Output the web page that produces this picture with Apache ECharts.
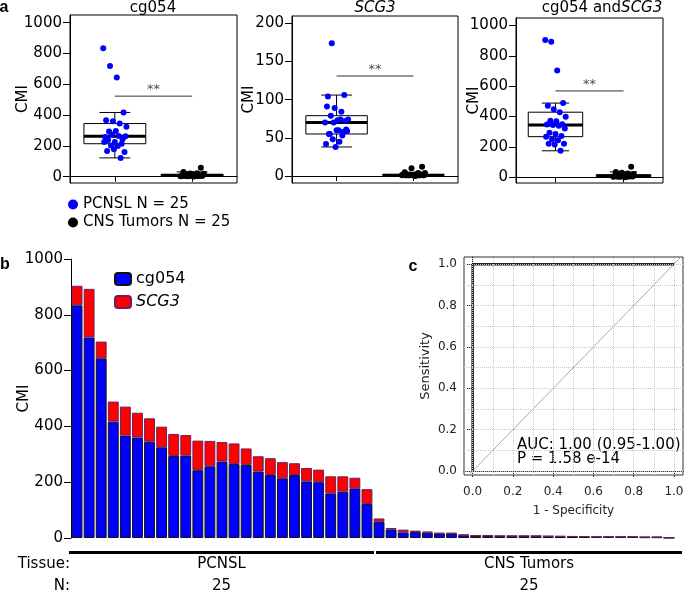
<!DOCTYPE html>
<html><head><meta charset="utf-8">
<script src="https://cdn.jsdelivr.net/npm/echarts@6/dist/echarts.min.js"></script>
<style>html,body{margin:0;padding:0;background:#fff}#c{width:684px;height:595px}</style>
</head><body><div id="c"></div>
<script>
// ---- data (bar order: sorted by combined CMI, descending) ----
const cg054Pcnsl = [834,719,644,417,367,360,345,325,294,296,243,257,274,265,262,238,226,214,226,203,200,160,166,178,122];
const scg3Pcnsl  = [70,174,60,72,104,89,84,74,79,73,106,91,70,74,59,55,60,58,42,48,45,61,55,38,53];
const cg054Cns   = [58,31,20,22,19,16,16,10,8,8,7,7,7,7,6,5,5,4,4,4,4,4,3,3,1];
const scg3Cns    = [12,5,10,4,4,2,2,2,2,2,1,1,1,1,1,2,1,2,1,1,1,1,1,1,0];
const groupNames = ['PCNSL','CNS Tumors'];
const groupN = [25,25];
const panelTitles = ['cg054','SCG3','cg054 and SCG3'];
const ticksA1 = [0,200,400,600,800,1000];
const ticksA2 = [0,50,100,150,200];
const ticksA3 = [0,200,400,600,800,1000];
const sigLineY = [523,131,569];
const rocX = [0,0,1];
const rocY = [0,1,1];
const rocTicks = [0,0.2,0.4,0.6,0.8,1.0];
const rocGrid = [0,0.1,0.2,0.3,0.4,0.5,0.6,0.7,0.8,0.9,1.0];
const aucText = 'AUC: 1.00 (0.95-1.00)';
const pText = 'P = 1.58 e-14';

// ---- derived ----
const sumPcnsl = cg054Pcnsl.map((v,i)=>v+scg3Pcnsl[i]);
const sumCns = cg054Cns.map((v,i)=>v+scg3Cns[i]);
const sampleIds = cg054Pcnsl.concat(cg054Cns).map((_,i)=>'S'+(i+1));
const FONT = 'DejaVu Sans';
const BLUE = '#0000ff', RED = '#ff0000';

function boxStats(arr){
  const x=[...arr].sort((a,b)=>a-b), n=x.length;
  const n4=Math.floor((n+3)/2)/2;
  const d=[1,n4,(n+1)/2,n+1-n4,n];
  const f=d.map(v=>0.5*(x[Math.floor(v)-1]+x[Math.ceil(v)-1]));
  const iqr=f[3]-f[1];
  const lo=x.find(v=>v>=f[1]-1.5*iqr);
  const hi=[...x].reverse().find(v=>v<=f[3]+1.5*iqr);
  return {lo,q1:f[1],md:f[2],q3:f[3],hi};
}
function jit(i){ return (((i*7)%25)/24-0.5)*0.3; }

function renderBox(params, api){
  const x=api.value(0), lo=api.value(1), q1=api.value(2), md=api.value(3), q3=api.value(4), hi=api.value(5);
  const hw=0.4, cw=0.2;
  const c=(a,b)=>api.coord([a,b]);
  const L=(p,q,w)=>({type:'line',shape:{x1:p[0],y1:p[1],x2:q[0],y2:q[1]},style:{stroke:'#000',lineWidth:w||1}});
  const a=c(x-hw,q3), b=c(x+hw,q1);
  return {type:'group',children:[
    L(c(x,q3),c(x,hi)), L(c(x,q1),c(x,lo)),
    L(c(x-cw,hi),c(x+cw,hi)), L(c(x-cw,lo),c(x+cw,lo)),
    {type:'rect',shape:{x:a[0],y:a[1],width:b[0]-a[0],height:b[1]-a[1]},style:{fill:'#fff',stroke:'#000',lineWidth:1}},
    L(c(x-hw,md),c(x+hw,md),3)
  ]};
}

const panels = [
  {p:cg054Pcnsl, c:cg054Cns, ticks:ticksA1, min:-41, max:1050},
  {p:scg3Pcnsl,  c:scg3Cns,  ticks:ticksA2, min:-9.2, max:209.6},
  {p:sumPcnsl,   c:sumCns,   ticks:ticksA3, min:-37, max:1049}
];
const gridsA = [
  {left:70, top:15, width:167, height:168},
  {left:292, top:16, width:166, height:167},
  {left:516, top:18, width:147, height:165}
];
const nameGapsA = [39,35,34];
const nameP = groupNames[0]+' N = '+groupN[0];
const nameC = groupNames[1]+' N = '+groupN[1];

const grid=[], xAxis=[], yAxis=[], series=[];
panels.forEach((pn,k)=>{
  grid.push(Object.assign({show:true,borderColor:'#000',borderWidth:1,backgroundColor:'transparent',outerBoundsMode:'none',containLabel:false},gridsA[k]));
  xAxis.push({gridIndex:k,type:'value',min:0.42,max:2.58,axisLine:{show:true,lineStyle:{color:'#000'}},
    axisTick:{show:true,customValues:[1,2],length:5,lineStyle:{color:'#000'}},
    axisLabel:{show:false},splitLine:{show:false}});
  yAxis.push({gridIndex:k,type:'value',min:pn.min,max:pn.max,axisLine:{show:true,lineStyle:{color:'#000'}},
    axisTick:{show:true,customValues:pn.ticks,length:7,lineStyle:{color:'#000'}},
    axisLabel:{customValues:pn.ticks,formatter:v=>String(v),fontFamily:FONT,fontSize:15,color:'#000',margin:8},
    splitLine:{show:false},name:'CMI',nameLocation:'middle',nameGap:nameGapsA[k],nameMoveOverlap:false,
    nameTextStyle:{fontFamily:FONT,fontSize:15,color:'#000'}});
  const sp=boxStats(pn.p), sc=boxStats(pn.c);
  series.push({type:'custom',xAxisIndex:k,yAxisIndex:k,renderItem:renderBox,z:2,silent:true,
    encode:{x:0,y:[1,2,3,4,5]},
    data:[[1,sp.lo,sp.q1,sp.md,sp.q3,sp.hi],[2,sc.lo,sc.q1,sc.md,sc.q3,sc.hi]]});
  series.push({type:'scatter',name:nameP,xAxisIndex:k,yAxisIndex:k,z:3,symbolSize:6,
    itemStyle:{color:BLUE,opacity:1},data:pn.p.map((v,i)=>[1+jit(i),v])});
  series.push({type:'scatter',name:nameC,xAxisIndex:k,yAxisIndex:k,z:3,symbolSize:6,
    itemStyle:{color:'#000',opacity:1},data:pn.c.map((v,i)=>[2+jit(i+3),v])});
  series.push({type:'line',xAxisIndex:k,yAxisIndex:k,symbol:'none',silent:true,
    lineStyle:{color:'#333',width:1},data:[[1,sigLineY[k]],[2,sigLineY[k]]]});
  series.push({type:'scatter',xAxisIndex:k,yAxisIndex:k,symbolSize:0,silent:true,
    label:{show:true,position:'top',distance:0,formatter:'**',fontFamily:FONT,fontSize:13,color:'#222'},
    data:[[1.5,sigLineY[k]]]});
});

// panel b
grid.push({left:71,top:259,width:604,height:279,outerBoundsMode:'none',containLabel:false});
xAxis.push({gridIndex:3,type:'category',data:sampleIds,axisLine:{show:false},axisTick:{show:false},axisLabel:{show:false}});
yAxis.push({gridIndex:3,type:'value',min:0,max:1000,interval:200,
  axisLine:{show:true,lineStyle:{color:'#000',width:1}},
  axisTick:{show:true,length:7,lineStyle:{color:'#000'}},
  axisLabel:{formatter:v=>String(v),fontFamily:FONT,fontSize:15,color:'#000',margin:8},
  splitLine:{show:false},name:'CMI',nameLocation:'middle',nameGap:39,nameMoveOverlap:false,
  nameTextStyle:{fontFamily:FONT,fontSize:15,color:'#000'}});
series.push({type:'bar',name:'cg054',xAxisIndex:3,yAxisIndex:3,stack:'cmi',barCategoryGap:'10%',
  itemStyle:{color:BLUE,borderColor:'#111',borderWidth:1},data:cg054Pcnsl.concat(cg054Cns)});
series.push({type:'bar',name:'SCG3',xAxisIndex:3,yAxisIndex:3,stack:'cmi',barCategoryGap:'10%',
  itemStyle:{color:RED,borderColor:'#6b1f5e',borderWidth:1},data:scg3Pcnsl.concat(scg3Cns)});

// panel c
grid.push({left:464,top:257,width:219,height:218,show:true,borderColor:'#333',borderWidth:1,backgroundColor:'transparent',outerBoundsMode:'none',containLabel:false});
xAxis.push({gridIndex:4,type:'value',min:-0.043,max:1.045,axisLine:{show:true,lineStyle:{color:'#333'}},
  axisTick:{show:true,customValues:rocTicks,length:6,lineStyle:{color:'#333'}},
  axisLabel:{customValues:rocTicks,formatter:v=>v.toFixed(1),fontFamily:FONT,fontSize:12,color:'#222',margin:11},
  splitLine:{show:false},name:'1 - Specificity',nameLocation:'middle',nameGap:30,nameMoveOverlap:false,
  nameTextStyle:{fontFamily:FONT,fontSize:12,color:'#222'}});
yAxis.push({gridIndex:4,type:'value',min:-0.019,max:1.035,axisLine:{show:true,lineStyle:{color:'#333'}},
  axisTick:{show:true,customValues:rocTicks,length:6,lineStyle:{color:'#333'}},
  axisLabel:{customValues:rocTicks,formatter:v=>v.toFixed(1),fontFamily:FONT,fontSize:12,color:'#222',margin:7},
  splitLine:{show:false},name:'Sensitivity',nameLocation:'middle',nameGap:32,nameMoveOverlap:false,
  nameTextStyle:{fontFamily:FONT,fontSize:13,color:'#222'}});
series.push({type:'line',xAxisIndex:4,yAxisIndex:4,symbol:'none',silent:true,z:1,
  lineStyle:{color:'#aaa',width:1},data:[[-0.1,-0.1],[1.1,1.1]],
  markLine:{silent:true,symbol:'none',label:{show:false},animation:false,
    lineStyle:{color:'#c8c8c8',type:'dotted',width:1},
    data:rocGrid.map(v=>({xAxis:v})).concat(rocGrid.map(v=>({yAxis:v})))}});
series.push({type:'line',xAxisIndex:4,yAxisIndex:4,symbol:'none',silent:true,z:3,
  lineStyle:{color:'#222',width:2.5},data:rocX.map((v,i)=>[v,rocY[i]])});

const option = {
  animation:false,
  grid, xAxis, yAxis, series,
  legend:[
    {data:[nameP,nameC],orient:'vertical',left:68,top:197,padding:0,itemWidth:10,itemHeight:10,itemGap:3,icon:'circle',
     selectedMode:false,textStyle:{fontFamily:FONT,fontSize:15,color:'#000'}},
    {data:['cg054','SCG3'],orient:'vertical',left:114,top:271,padding:0,itemWidth:16,itemHeight:12,itemGap:7,
     selectedMode:false,formatter:n=>n==='SCG3'?'{i|SCG3}':n,
     textStyle:{fontFamily:FONT,fontSize:16,color:'#000',rich:{i:{fontStyle:'italic',fontFamily:FONT,fontSize:16}}}}
  ]
};
const chart = echarts.init(document.getElementById('c'));
chart.setOption(option);

// annotations placed via the axes
const g=[];
const T=(x,y,text,o)=>g.push({type:'text',x,y,silent:true,style:Object.assign({text,fontFamily:FONT,fontSize:15,fill:'#000',align:'center',verticalAlign:'middle'},o||{})});
T(4,8,'a',{fontFamily:'Liberation Sans',fontWeight:'bold',fontSize:16});
T(5,265,'b',{fontFamily:'Liberation Sans',fontWeight:'bold',fontSize:16});
T(413,267,'c',{fontFamily:'Liberation Sans',fontWeight:'bold',fontSize:16});
T(153,8,panelTitles[0]);
T(375,8,panelTitles[1],{fontStyle:'italic'});
g.push({type:'text',x:602,y:8,silent:true,style:{text:'cg054 and{i|SCG3}',fontFamily:FONT,fontSize:15,fill:'#000',align:'center',verticalAlign:'middle',rich:{i:{fontStyle:'italic',fontFamily:FONT,fontSize:15}}}});
const auc0 = chart.convertToPixel({xAxisIndex:4,yAxisIndex:4},[0.22,0.125]);
T(auc0[0],auc0[1],aucText,{align:'left'});
const p0 = chart.convertToPixel({xAxisIndex:4,yAxisIndex:4},[0.22,0.06]);
T(p0[0],p0[1],pText,{align:'left'});
// tissue bars
const px=i=>chart.convertToPixel({xAxisIndex:3},i);
const band = px(1)-px(0);
const nP=cg054Pcnsl.length, nC=cg054Cns.length;
const segs=[[px(0)-band/2-2, px(nP-1)+band/2+1],[px(nP)-band/2+3, px(nP+nC-1)+band/2+7]];
segs.forEach((s,k)=>{
  g.push({type:'line',silent:true,shape:{x1:s[0],y1:552.5,x2:s[1],y2:552.5},style:{stroke:'#000',lineWidth:3}});
  const cx=(s[0]+s[1])/2;
  T(cx,564,groupNames[k]);
  T(cx,586,String(groupN[k]));
});
T(70,564,'Tissue:',{align:'right'});
T(70,586,'N:',{align:'right'});
chart.setOption({graphic:g});
</script></body></html>
